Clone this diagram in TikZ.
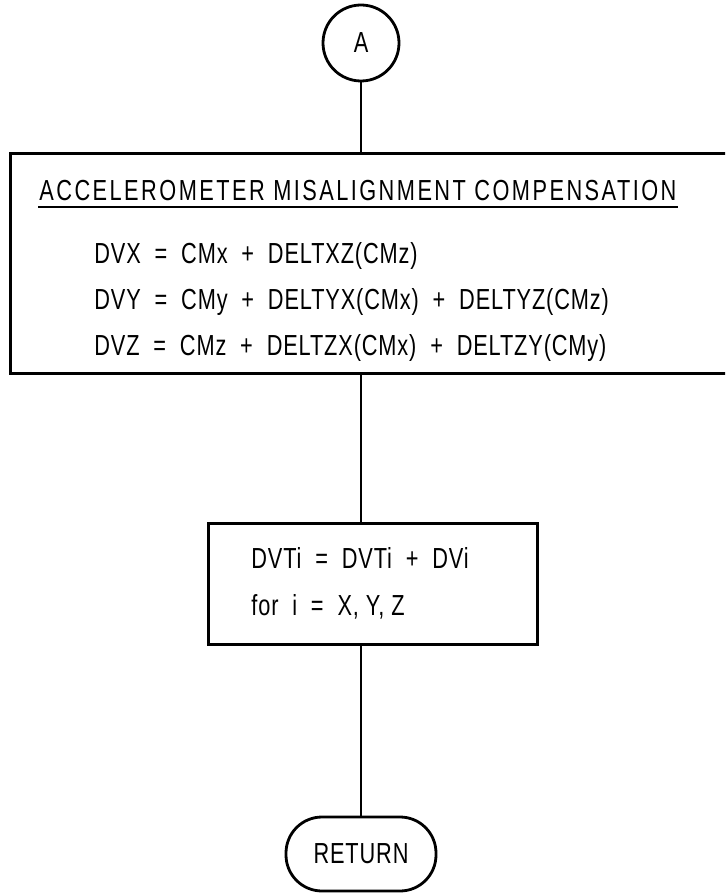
\documentclass[tikz,border=0pt]{standalone}
\usepackage{fontspec}
\setmainfont{Liberation Sans}[FakeStretch=0.75,LetterSpace=3]
\newfontfamily\spacedfont{Liberation Sans}[FakeStretch=0.75,LetterSpace=8.5]
\usetikzlibrary{positioning}

\begin{document}
\begin{tikzpicture}[x=1pt,y=1pt,line width=2.8pt,font=\fontsize{29}{34}\selectfont]
	\tikzstyle{term}=[draw,circle,minimum size=76pt,inner sep=0pt]
	\tikzstyle{procbox}=[draw,rectangle,inner sep=0pt]
	\tikzstyle{endbox}=[draw,rectangle,rounded corners=36pt,minimum width=150pt,minimum height=74pt]
	\tikzstyle{txt}=[inner sep=0pt,anchor=base west]

	\clip (0,0) rectangle (725,-893);

	\node[term]                       (A)    at (361,-43)  {A};
	\node[procbox,anchor=north west,minimum width=760pt,minimum height=220pt]
	                                  (comp) at (9,-152)   {};
	\node[procbox,anchor=north west,minimum width=329pt,minimum height=121pt]
	                                  (sum)  at (207,-522) {};
	\node[endbox]                     (ret)  at (361,-854) {RETURN};

	% text of the compensation box
	\node[txt] (title) at (38,-201)  {\spacedfont ACCELEROMETER MISALIGNMENT COMPENSATION};
	\draw[line width=2pt] ([yshift=-4pt]title.south west) -- ([yshift=-4pt]title.south east);
	\node[txt] (dvx) at (93,-263)    {DVX~~=~~CMx~~+~~DELTXZ(CMz)};
	\node[txt] (dvy) at (93,-309)    {DVY~~=~~CMy~~+~~DELTYX(CMx)~~+~~DELTYZ(CMz)};
	\node[txt] (dvz) at (93,-355)    {DVZ~~=~~CMz~~+~~DELTZX(CMx)~~+~~DELTZY(CMy)};

	% text of the sum box
	\node[txt] (dvt) at (250,-568)   {DVTi~~=~~DVTi~~+~~DVi};
	\node[txt] (fori) at (250,-615)  {for~~i~~=~~X, Y, Z};

	\coordinate (c1) at (A |- comp.south);
	\draw (A) -- (A |- comp.north);
	\draw (c1) -- (c1 |- sum.north);
	\draw (c1 |- sum.south) -- (ret);
\end{tikzpicture}
\end{document}
